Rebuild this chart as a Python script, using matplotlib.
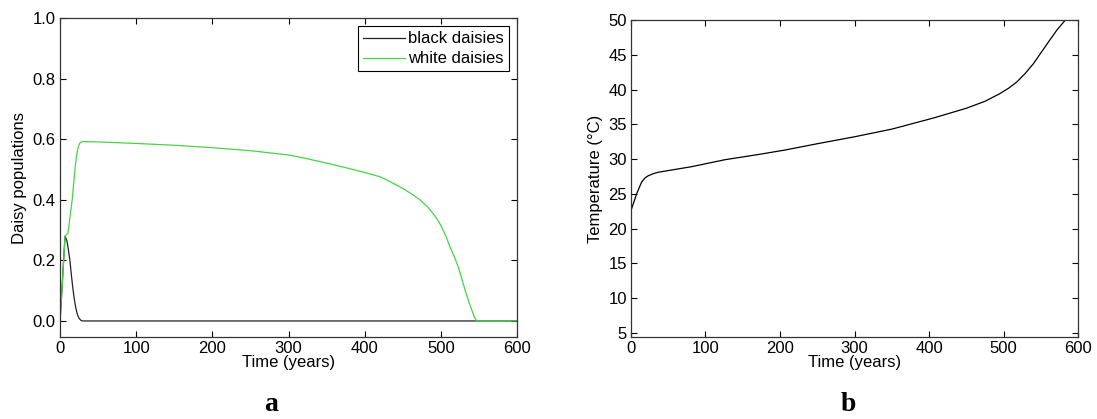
import numpy as np
import matplotlib
matplotlib.use("Agg")
import matplotlib.pyplot as plt

plt.rcParams['font.family'] = ['Liberation Sans', 'DejaVu Sans']
plt.rcParams['font.size'] = 12

# daisy populations (panel a)
t_black = [0, 2, 4, 6.6, 9, 11, 13, 15, 17, 19, 21, 23, 25, 27, 29, 35, 100, 300, 548, 600]
black = [0, 0.08, 0.17, 0.28, 0.265, 0.235, 0.2, 0.15, 0.105, 0.068, 0.04, 0.02,
         0.009, 0.003, 0.0, 0.0, 0.0, 0.0, 0.0, 0.0]

t_white = [0, 3, 6.6, 10.5, 16, 20, 22, 24, 26, 28, 32, 50, 100, 150, 200, 250, 300,
           320, 350, 380, 400, 420, 430, 446, 460, 473, 482, 490, 496, 501, 507,
           512, 518, 523, 528, 532, 537, 541, 544, 547, 600]
white = [0, 0.12, 0.28, 0.29, 0.40, 0.51, 0.55, 0.575, 0.587, 0.591, 0.592, 0.591,
         0.586, 0.580, 0.572, 0.562, 0.548, 0.538, 0.521, 0.503, 0.49, 0.476,
         0.464, 0.443, 0.422, 0.399, 0.378, 0.354, 0.333, 0.31, 0.278, 0.244,
         0.21, 0.177, 0.135, 0.10, 0.062, 0.033, 0.013, 0.0, 0.0]

# temperature (panel b)
t_temp = [0, 7.6, 14.3, 19, 23.3, 30, 36.6, 81.4, 126, 171, 207, 250, 300, 350, 406,
          450, 475, 495, 507, 518, 529, 540, 551, 562, 572, 583, 600]
temp = [22.6, 25.0, 26.7, 27.3, 27.6, 27.9, 28.1, 28.9, 29.9, 30.65, 31.3, 32.2,
        33.2, 34.3, 35.9, 37.3, 38.3, 39.4, 40.2, 41.1, 42.3, 43.7, 45.4, 47.1,
        48.6, 50.0, 52.3]

fig = plt.figure(figsize=(10.97, 4.19), dpi=100)

ax1 = fig.add_axes([0.0547, 0.1957, 0.4166, 0.7613])
ax1.plot(t_black, black, color='#222222', lw=0.9, label='black daisies')
ax1.plot(t_white, white, color='#45d445', lw=0.9, label='white daisies')
ax1.set_xlim(0, 600)
ax1.set_ylim(-0.053, 1.0)
ax1.set_xticks(np.arange(0, 601, 100))
ax1.set_yticks(np.arange(0, 1.01, 0.2))
ax1.set_yticklabels(['0.0', '0.2', '0.4', '0.6', '0.8', '1.0'])
ax1.set_xlabel('Time (years)', labelpad=-1)
ax1.set_ylabel('Daisy populations', labelpad=4)
leg = ax1.legend(loc='upper right', fancybox=False, edgecolor='black',
                 borderaxespad=0.5, handlelength=2.5, handletextpad=0.2,
                 borderpad=0.3, labelspacing=0.3, framealpha=1)
leg.get_frame().set_linewidth(0.8)

ax2 = fig.add_axes([0.5752, 0.1957, 0.4075, 0.7566])
ax2.plot(t_temp, temp, color='black', lw=0.9)
ax2.set_xlim(0, 600)
ax2.set_ylim(4.4, 50)
ax2.set_xticks(np.arange(0, 601, 100))
ax2.set_yticks(np.arange(5, 51, 5))
ax2.set_xlabel('Time (years)', labelpad=-1)
ax2.set_ylabel('Temperature (°C)', labelpad=4)

for ax in (ax1, ax2):
    ax.tick_params(direction='in', top=True, right=True, length=4, width=0.8,
                   labelsize=12, pad=3)
    for sp in ax.spines.values():
        sp.set_linewidth(0.9)
        sp.set_color('#333333')

fig.text(0.247, 0.018, 'a', fontsize=20, fontweight='bold',
         family=['Liberation Serif', 'DejaVu Serif'], ha='center')
fig.text(0.773, 0.018, 'b', fontsize=20, fontweight='bold',
         family=['Liberation Serif', 'DejaVu Serif'], ha='center')

fig.savefig('out.png', dpi=100)
